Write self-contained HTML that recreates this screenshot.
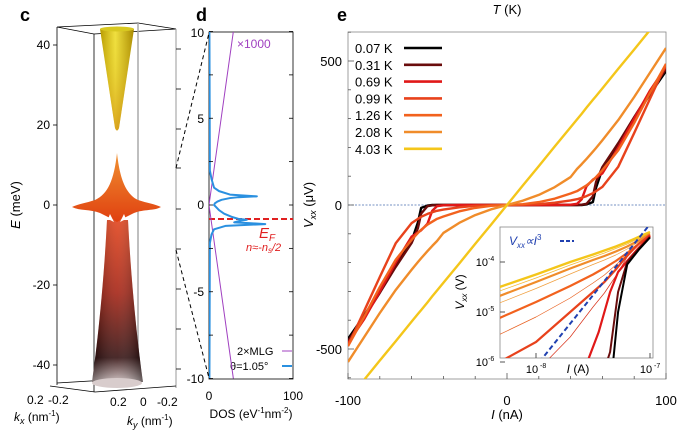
<!DOCTYPE html>
<html><head><meta charset="utf-8"><style>
html,body{margin:0;padding:0;background:#fff}
svg{display:block;font-family:"Liberation Sans",sans-serif}
</style></head><body>
<svg id="fig" width="678" height="434" viewBox="0 0 678 434">
<defs>
<linearGradient id="gy" x1="0" y1="0" x2="1" y2="0"><stop offset="0" stop-color="#b89a00"/><stop offset="0.45" stop-color="#f0e040"/><stop offset="1" stop-color="#a88800"/></linearGradient>
<linearGradient id="gyv" x1="0" y1="0" x2="0" y2="1"><stop offset="0" stop-color="#e8dc30" stop-opacity="0"/><stop offset="1" stop-color="#d08a10" stop-opacity="0.7"/></linearGradient>
<linearGradient id="go" x1="0" y1="0" x2="0" y2="1"><stop offset="0" stop-color="#f09030"/><stop offset="1" stop-color="#e04010"/></linearGradient>
<linearGradient id="gr" x1="0" y1="0" x2="0" y2="1"><stop offset="0" stop-color="#e03a10"/><stop offset="0.45" stop-color="#a01808"/><stop offset="0.85" stop-color="#2a0505"/><stop offset="1" stop-color="#c8b8b8"/></linearGradient>
<linearGradient id="grh" x1="0" y1="0" x2="1" y2="0"><stop offset="0" stop-color="#000" stop-opacity="0.35"/><stop offset="0.5" stop-color="#fff" stop-opacity="0.15"/><stop offset="1" stop-color="#000" stop-opacity="0.45"/></linearGradient>
<clipPath id="clipE"><rect x="348" y="32" width="318" height="347"/></clipPath>
<clipPath id="clipI"><rect x="500" y="227" width="153" height="131"/></clipPath>
<clipPath id="clipD"><rect x="209" y="32" width="84" height="347"/></clipPath>
</defs>

<text x="20" y="21" font-size="18" font-weight="bold">c</text>
<text x="196" y="21" font-size="18" font-weight="bold">d</text>
<text x="337" y="21" font-size="18" font-weight="bold">e</text>
<text x="507" y="14" font-size="13" text-anchor="middle"><tspan font-style="italic">T</tspan> (K)</text>

<!-- ============ PANEL C ============ -->
<g>
 <g stroke="#000" stroke-width="0.8" fill="none">
  <polyline points="57,27 138,23 176,29 94,34 57,27"/>
  <line x1="57" y1="27" x2="57" y2="385"/>
  <line x1="94" y1="34" x2="94" y2="392"/>
  <line x1="138" y1="23" x2="138" y2="383" stroke="#aaa" stroke-width="1.5"/>
  <line x1="176" y1="29" x2="176" y2="388" stroke="#999" stroke-width="1"/>
  <polyline points="50,386 95,392 176,386"/>
  <line x1="57" y1="383" x2="140" y2="378"/>
 </g>
 <path d="M100,29 L134,29 L119,128 Q117,133 115,128 Z" fill="url(#gy)"/>
 <path d="M100,29 L134,29 L119,128 Q117,133 115,128 Z" fill="url(#gyv)"/>
 <ellipse cx="117" cy="29" rx="17" ry="2.5" fill="#d8c820"/>
 <path d="M107,220 C104,280 98,340 92,382 L143,382 C137,340 131,280 128,220 Z" fill="url(#gr)"/>
 <path d="M107,220 C104,280 98,340 92,382 L143,382 C137,340 131,280 128,220 Z" fill="url(#grh)"/>
 <ellipse cx="117" cy="383" rx="25" ry="5" fill="#d8cccc"/>
 <path d="M117,153 C114,180 108,194 95,200 C86,203 78,204 72,207 C80,211 90,209 100,213 L110,218 L117,222 L124,218 L134,213 C144,209 154,211 161,207 C155,204 147,203 138,200 C126,194 120,180 117,153 Z" fill="url(#go)"/>
 <path d="M110,214 L114,222 L108,219 Z M124,214 L120,222 L126,219 Z" fill="#fff"/>
 <g font-size="12" text-anchor="end">
  <text x="50" y="49">40</text><text x="50" y="129">20</text><text x="50" y="209">0</text><text x="50" y="289">-20</text><text x="50" y="369">-40</text>
 </g>
 <g stroke="#000" stroke-width="0.8">
  <line x1="57" y1="45" x2="53" y2="45"/><line x1="57" y1="125" x2="53" y2="125"/><line x1="57" y1="205" x2="53" y2="205"/><line x1="57" y1="285" x2="53" y2="285"/><line x1="57" y1="365" x2="53" y2="365"/>
  <line x1="176" y1="49" x2="181" y2="49"/><line x1="176" y1="89" x2="181" y2="89"/><line x1="176" y1="129" x2="181" y2="129"/><line x1="176" y1="168" x2="181" y2="168"/><line x1="176" y1="209" x2="181" y2="209"/><line x1="176" y1="249" x2="181" y2="249"/><line x1="176" y1="289" x2="181" y2="289"/><line x1="176" y1="329" x2="181" y2="329"/><line x1="176" y1="369" x2="181" y2="369"/>
 </g>
 <text transform="translate(20,205) rotate(-90)" font-size="13" text-anchor="middle"><tspan font-style="italic">E</tspan> (meV)</text>
 <g font-size="12">
  <text x="27" y="404">0.2</text><text x="48" y="404">-0.2</text><text x="110" y="406">0.2</text><text x="140" y="406">0</text><text x="157" y="406">-0.2</text>
 </g>
 <text x="14" y="421" font-size="12"><tspan font-style="italic">k</tspan><tspan font-style="italic" font-size="9" dy="3">x</tspan><tspan dy="-3"> (nm</tspan><tspan font-size="8" dy="-5">-1</tspan><tspan dy="5">)</tspan></text>
 <text x="127" y="425" font-size="12"><tspan font-style="italic">k</tspan><tspan font-style="italic" font-size="9" dy="3">y</tspan><tspan dy="-3"> (nm</tspan><tspan font-size="8" dy="-5">-1</tspan><tspan dy="5">)</tspan></text>
 <line x1="176" y1="168" x2="209" y2="33" stroke="#000" stroke-dasharray="4,3"/>
 <line x1="176" y1="250" x2="209" y2="378" stroke="#000" stroke-dasharray="4,3"/>
</g>

<!-- ============ PANEL D ============ -->
<g id="panelD">
 <rect x="209" y="32" width="84" height="347" fill="none" stroke="#000" stroke-width="0.8"/>
 <g font-size="12" text-anchor="end">
  <text x="204" y="37">10</text><text x="204" y="123">5</text><text x="204" y="209">0</text><text x="204" y="296">-5</text><text x="204" y="383">-10</text>
 </g>
 <g font-size="12" text-anchor="middle"><text x="209" y="400">0</text><text x="293" y="400">100</text></g>
 <text x="251" y="418" font-size="12" text-anchor="middle">DOS (eV<tspan font-size="8" dy="-5">-1</tspan><tspan dy="5">nm</tspan><tspan font-size="8" dy="-5">-2</tspan><tspan dy="5">)</tspan></text>
 <text x="237" y="48" font-size="12" fill="#a040c0">×1000</text>
 <line x1="209" y1="219" x2="293" y2="219" stroke="#e02020" stroke-width="2" stroke-dasharray="6,3"/>
 <text x="259" y="238" font-size="15" fill="#e02020" font-style="italic">E<tspan font-size="10" dy="3">F</tspan></text>
 <text x="246" y="251" font-size="11" fill="#e02020" font-style="italic">n≈-n<tspan font-size="8" dy="2">s</tspan><tspan dy="-2">/2</tspan></text>
 <text x="237" y="355" font-size="11">2×MLG</text>
 <line x1="282" y1="351" x2="292" y2="351" stroke="#a040c0" stroke-width="1"/>
 <text x="230" y="370" font-size="11">θ=1.05°</text>
 <line x1="282" y1="366" x2="292" y2="366" stroke="#2a90e0" stroke-width="2"/>
</g>

<!-- ============ PANEL E ============ -->
<g id="panelE">
 <line x1="348" y1="205" x2="666" y2="205" stroke="#4a6fb0" stroke-width="0.8" stroke-dasharray="2,1.5"/>
 <rect x="348" y="32" width="318" height="347" fill="none" stroke="#888" stroke-width="0.8"/>
 <g id="eTicks"></g>
 <g id="eCurves" clip-path="url(#clipE)"></g>
 <text transform="translate(313,205) rotate(-90)" font-size="13" text-anchor="middle"><tspan font-style="italic">V</tspan><tspan font-style="italic" font-size="9" dy="3">xx</tspan><tspan dy="-3"> (μV)</tspan></text>
 <text x="507" y="419" font-size="13" text-anchor="middle"><tspan font-style="italic">I</tspan> (nA)</text>
 <g id="legend" font-size="13"></g>
 <rect x="500" y="227" width="153" height="131" fill="#fff" stroke="#888" stroke-width="0.8"/>
 <g id="insetCurves" clip-path="url(#clipI)"></g>
 <g id="insetTicks" font-size="11"></g>
 <text transform="translate(464,292) rotate(-90)" font-size="12" text-anchor="middle"><tspan font-style="italic">V</tspan><tspan font-style="italic" font-size="8" dy="3">xx</tspan><tspan dy="-3"> (V)</tspan></text>
 <text x="578" y="373" font-size="12" text-anchor="middle"><tspan font-style="italic">I</tspan> (A)</text>
 <text x="509" y="245" font-size="12" fill="#2040b0" font-style="italic">V<tspan font-size="8" dy="3">xx</tspan><tspan dy="-3">∝</tspan>I<tspan font-size="8" dy="-5" font-style="normal">3</tspan></text>
 <line x1="560" y1="241" x2="574" y2="241" stroke="#2040b0" stroke-width="2" stroke-dasharray="4,2"/>
</g>

<script>
// ---------- Panel D data ----------
const dE = [10,2,1.5,1.0,0.8,0.6,0.5,0.45,0.4,0.3,0.2,0.1,0,-0.1,-0.3,-0.5,-0.7,-0.8,-0.85,-0.9,-1.0,-1.05,-1.1,-1.2,-1.4,-1.7,-2.2,-10];
const dDos = [0.5,1,3,6,12,25,57,35,25,15,10,7,6,8,12,18,28,35,45,38,30,50,67,20,6,3,1,0.5];
const mlgE = [10,0,-10];
const mlgDos = [29,0,29];

// ---------- Panel E data ----------
const curI = [-100,-90,-80,-70,-60,-56,-54,-50,-47,-44,-40,-30,-20,-10,0,10,20,30,40,44,47,50,54,56,60,70,80,90,100];
const temps = ["0.07 K","0.31 K","0.69 K","0.99 K","1.26 K","2.08 K","4.03 K"];
const v007 = [-465,-385,-300,-210,-125,-60,-10,-2,0,0,0,0,0,0,0,0,0,0,0,0,0,2,10,60,125,210,300,385,465];
const v031 = [-472,-392,-305,-215,-132,-80,-30,-4,-1,0,0,0,0,0,0,0,0,0,0,0,1,4,30,80,132,215,305,392,472];
const v069 = [-480,-398,-300,-200,-110,-95,-88,-65,-20,-4,-1,0,0,0,0,0,0,0,1,4,20,65,88,95,110,200,300,398,480];
const v099 = [-488,-370,-250,-133,-63,-48,-41,-31,-25,-20,-16,-8,-3,-1,0,1,3,8,16,20,25,31,41,48,63,133,250,370,488];
const v126 = [-490,-390,-285,-190,-121,-97,-86,-68,-58,-48,-40,-22,-10,-3,0,3,10,22,40,48,58,68,86,97,121,190,285,390,490];
const v208 = [-545,-460,-375,-295,-225,-198,-185,-160,-142,-125,-97,-62,-35,-15,0,15,35,62,97,125,142,160,185,198,225,295,375,460,545];
const v403 = [-675,-608,-540,-473,-405,-378,-365,-338,-317,-297,-270,-203,-135,-68,0,68,135,203,270,297,317,338,365,378,405,473,540,608,675];
const series = [v007,v031,v069,v099,v126,v208,v403];
const colors = ["#000000","#6a0c0c","#e01818","#e8421c","#f2621e","#f08c2a","#f4c61a"];
const yTicks = [-500,0,500];
const xTicks = [-100,0,100];

// ---------- Inset data (log10 I, log10 V) ----------
const insI = [-8.32,-8.0,-7.7,-7.5,-7.4,-7.3,-7.2,-7.1,-7.0];
const ins403 = [-4.5,-4.25,-4.0,-3.85,-3.77,-3.69,-3.6,-3.5,-3.4];
const ins300 = [-4.58,-4.32,-4.06,-3.9,-3.82,-3.73,-3.64,-3.53,-3.42];
const ins208 = [-4.68,-4.4,-4.13,-3.96,-3.88,-3.79,-3.69,-3.57,-3.44];
const ins170 = [-4.82,-4.53,-4.24,-4.05,-3.96,-3.86,-3.74,-3.6,-3.46];
const ins126 = [-5.12,-4.8,-4.48,-4.25,-4.12,-3.98,-3.82,-3.64,-3.47];
const ins110 = [-5.45,-5.1,-4.72,-4.42,-4.26,-4.06,-3.85,-3.65,-3.48];
const ins099 = [-6.0,-5.6,-5.0,-4.6,-4.4,-4.15,-3.87,-3.64,-3.46];
const ins085 = [-6.8,-6.2,-5.5,-4.9,-4.62,-4.28,-3.9,-3.65,-3.47];
const insLowI = [-7.55,-7.45,-7.35,-7.28,-7.2,-7.1,-7.0];
const ins069 = [-6.0,-5.4,-4.6,-4.2,-3.98,-3.72,-3.48];
const ins031 = [-7.0,-6.5,-5.8,-4.6,-4.0,-3.74,-3.5];
const ins007 = [-7.5,-7.0,-6.6,-5.0,-4.05,-3.76,-3.51];
const fitI = [-7.97,-7.02];
const fitV = [-6.0,-3.3];
const insXTicks = [-8,-7];
const insYTicks = [-6,-5,-4];

var SVGNS = "http://www.w3.org/2000/svg";
function mk(tag, attrs, parent) {
  var e = document.createElementNS(SVGNS, tag);
  for (var k in attrs) { e.setAttribute(k, attrs[k]); }
  parent.appendChild(e);
  return e;
}

function dx(v){ return 209 + v*0.84; }
function dy(e){ return 205 - e*17.35; }
function ex(i){ return 507 + i*1.59; }
function ey(v){ return 205 - v*0.288; }
function ix(l){ return 536 + (l+8)*114; }
function iy(l){ return 262 - (l+4)*50; }

// Panel D
var pD = document.getElementById('panelD');
var gD = mk('g', {'clip-path':'url(#clipD)'}, pD);
var pts = [];
for (var a = 0; a < mlgE.length; a++) { pts.push(dx(mlgDos[a]) + ',' + dy(mlgE[a])); }
var pm = mk('polyline', {points: pts.join(' '), fill:'none', stroke:'#a040c0', 'stroke-width':1}, gD);


pts = [];
for (var a2 = 0; a2 < dE.length; a2++) { pts.push(dx(dDos[a2]) + ',' + dy(dE[a2])); }
var pb = mk('polyline', {points: pts.join(' '), fill:'none', stroke:'#2a90e0', 'stroke-width':2, 'stroke-linejoin':'round'}, gD);


for (var en = -10; en <= 10; en += 2.5) {
  mk('line', {x1:209, y1:dy(en), x2:213, y2:dy(en), stroke:'#000', 'stroke-width':0.8}, pD);
  mk('line', {x1:293, y1:dy(en), x2:289, y2:dy(en), stroke:'#000', 'stroke-width':0.8}, pD);
}

// Panel E ticks
var gT = document.getElementById('eTicks');
for (var vv = -600; vv <= 600; vv += 100) {
  if (ey(vv) < 32 || ey(vv) > 379) continue;
  var L = (vv % 500 === 0) ? 6 : 3;
  mk('line', {x1:348, y1:ey(vv), x2:348+L, y2:ey(vv), stroke:'#555', 'stroke-width':0.8}, gT);
}
for (var ii = -100; ii <= 100; ii += 20) {
  var L2 = (ii % 100 === 0) ? 6 : 3;
  mk('line', {x1:ex(ii), y1:379, x2:ex(ii), y2:379-L2, stroke:'#555', 'stroke-width':0.8}, gT);
}
for (var yt = 0; yt < yTicks.length; yt++) {
  var ty = mk('text', {x:342, y:ey(yTicks[yt])+5, 'font-size':13, 'text-anchor':'end'}, gT);
  ty.textContent = String(yTicks[yt]);
  
  
}
for (var xt = 0; xt < xTicks.length; xt++) {
  var tx = mk('text', {x:ex(xTicks[xt]), y:405, 'font-size':13, 'text-anchor':'middle'}, gT);
  tx.textContent = String(xTicks[xt]);
  
  
}

// Panel E curves
var gC = document.getElementById('eCurves');
for (var s = 0; s < series.length; s++) {
  var cp = [];
  for (var k2 = 0; k2 < curI.length; k2++) { cp.push(ex(curI[k2]) + ',' + ey(series[s][k2])); }
  var pl = mk('polyline', {points: cp.join(' '), fill:'none', stroke:colors[s], 'stroke-width':2.4, 'stroke-linejoin':'round'}, gC);
  
  
}

// Legend
var gL = document.getElementById('legend');
for (var q = 0; q < temps.length; q++) {
  var ly = 48 + q*16.8;
  var lt = mk('text', {x:355, y:ly+5}, gL);
  lt.textContent = temps[q];
  
  
  var ln = mk('line', {x1:404, y1:ly, x2:442, y2:ly, stroke:colors[q], 'stroke-width':2.6}, gL);
  
  
}

// Inset
var gI = document.getElementById('insetCurves');
function insLine(xs, ys, col, w, name) {
  var ip = [];
  for (var m = 0; m < xs.length; m++) { ip.push(ix(xs[m]) + ',' + iy(ys[m])); }
  var el = mk('polyline', {points: ip.join(' '), fill:'none', stroke:col, 'stroke-width':w, 'stroke-linejoin':'round'}, gI);
  
  
  return el;
}
insLine(insI, ins085, '#d83018', 0.7, 'inset-curve-thin-a');
insLine(insI, ins110, '#e86020', 0.7, 'inset-curve-thin-b');
insLine(insI, ins170, '#f0a040', 0.7, 'inset-curve-thin-c');
insLine(insI, ins300, '#f4b830', 0.7, 'inset-curve-thin-d');
insLine(insI, ins403, '#f4c61a', 2.4, 'inset-curve-4k');
insLine(insI, ins208, '#f08c2a', 2.2, 'inset-curve-2k');
insLine(insI, ins126, '#f2621e', 2.2, 'inset-curve-1p26k');
insLine(insI, ins099, '#e8421c', 2.2, 'inset-curve-0p99k');
insLine(insLowI, ins069, '#e01818', 2.2, 'inset-curve-0p69k');
insLine(insLowI, ins031, '#6a0c0c', 2, 'inset-curve-0p31k');
insLine(insLowI, ins007, '#000000', 2, 'inset-curve-0p07k');
var fl = insLine(fitI, fitV, '#2040b0', 2, 'power-law-fit-line');
fl.setAttribute('stroke-dasharray', '5,3');

var gIT = document.getElementById('insetTicks');
for (var u = 0; u < insXTicks.length; u++) {
  var xv = insXTicks[u];
  var t1 = mk('text', {x:ix(xv)-4, y:373, 'text-anchor':'middle'}, gIT);
  t1.textContent = '10';
  
  
  var t1e = mk('text', {x:ix(xv)+4, y:368, 'font-size':7}, gIT);
  t1e.textContent = String(xv);
  mk('line', {x1:ix(xv), y1:358, x2:ix(xv), y2:353, stroke:'#555'}, gIT);
}
for (var w2 = 0; w2 < insYTicks.length; w2++) {
  var yv = insYTicks[w2];
  var t2 = mk('text', {x:488, y:iy(yv)+4, 'text-anchor':'end'}, gIT);
  t2.textContent = '10';
  
  
  var t2e = mk('text', {x:488, y:iy(yv)-1, 'font-size':7}, gIT);
  t2e.textContent = String(yv);
  mk('line', {x1:500, y1:iy(yv), x2:505, y2:iy(yv), stroke:'#555'}, gIT);
}
</script>
</svg>
</body></html>
